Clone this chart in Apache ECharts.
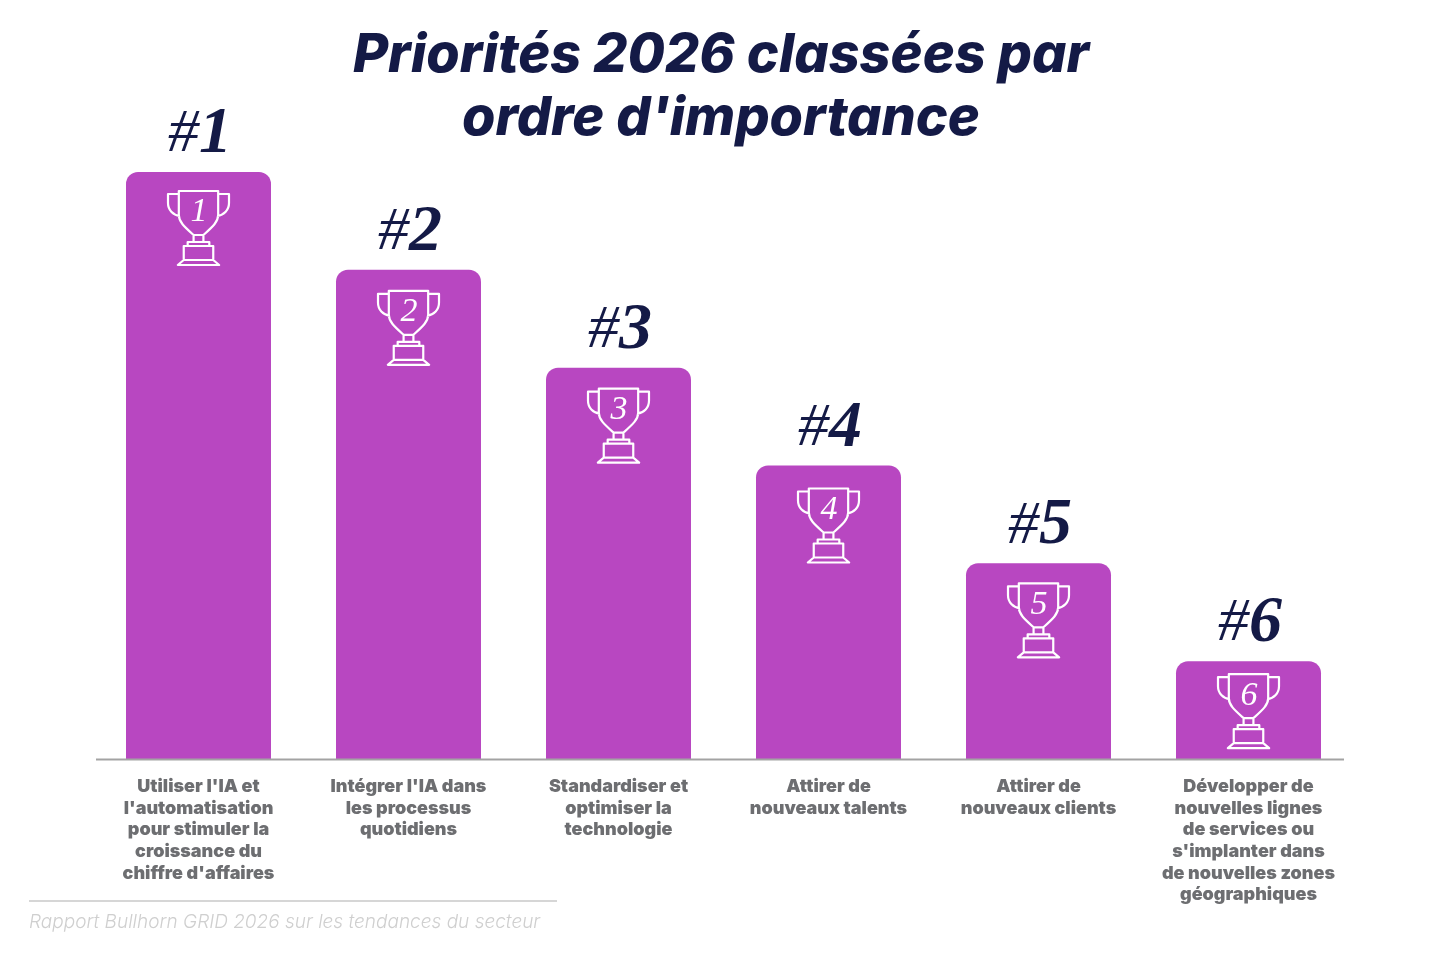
<!DOCTYPE html>
<html lang="fr">
<head>
<meta charset="utf-8">
<style>html,body{margin:0;padding:0;background:#fff}#chart{width:1440px;height:956px}</style>
<script src="https://cdn.jsdelivr.net/npm/echarts@6/dist/echarts.min.js"></script>
</head>
<body>
<div id="chart"></div>
<script>
const titleText = "Priorités 2026 classées par\nordre d'importance";
const sourceText = "Rapport Bullhorn GRID 2026 sur les tendances du secteur";
const categories = [
  "Utiliser l'IA et\nl'automatisation\npour stimuler la\ncroissance du\nchiffre d'affaires",
  "Intégrer l'IA dans\nles processus\nquotidiens",
  "Standardiser et\noptimiser la\ntechnologie",
  "Attirer de\nnouveaux talents",
  "Attirer de\nnouveaux clients",
  "Développer de\nnouvelles lignes\nde services ou\ns'implanter dans\nde nouvelles zones\ngéographiques"
];
const ranks = [1, 2, 3, 4, 5, 6];
const scores = [6, 5, 4, 3, 2, 1];

const NAVY = '#141a46';
const PURPLE = '#b847c1';
const SANS = 'Inter, "Open Sans", sans-serif';
const SERIF = '"Liberation Serif", serif';

// Vertical nudge of each trophy inside its bar, in pixels.
const trophyNudge = [0, 2, 2, 4, 1, -6];

// Trophy outline, centred on x = 0 with y = 0 at the top of the bar.
const trophyPath =
  'M-20 19H20V43C20 50 14 55 5 63H-5C-14 55 -20 50 -20 43Z' +
  'M-20 22H-31V31C-31 38 -26 43 -19 44M20 22H31V31C31 38 26 43 19 44' +
  'M-5 63V70H5V63M-11 70H11V74H-11ZM-15 74H15V88H-15Z' +
  'M-15 88H15L21 93H-21Z';

function renderTrophy(params, api) {
  const top = api.coord([api.value(0), api.value(1)]);
  const i = params.dataIndex;
  return {
    type: 'group',
    x: top[0],
    y: top[1] + trophyNudge[i],
    children: [
      {
        type: 'path',
        shape: { pathData: trophyPath, layout: 'cover', x: -30.5, y: 19, width: 61, height: 74 },
        style: { fill: 'none', stroke: '#fff', lineWidth: 2.2, lineJoin: 'round' }
      },
      {
        type: 'text',
        style: {
          text: String(ranks[i]),
          x: 0.5, y: 40.5,
          align: 'center', verticalAlign: 'middle',
          font: 'italic 34px ' + SERIF,
          fill: '#fff'
        }
      }
    ]
  };
}

const chart = echarts.init(document.getElementById('chart'), null, { renderer: 'canvas' });
chart.setOption({
  animation: false,
  backgroundColor: '#fff',
  title: {
    text: titleText,
    left: 716,
    top: 19,
    textAlign: 'center',
    textStyle: {
      color: NAVY,
      fontFamily: SANS,
      fontWeight: 800,
      fontStyle: 'italic',
      fontSize: 54,
      lineHeight: 63
    }
  },
  grid: { left: 93.5, width: 1260, top: 172, bottom: 197 },
  xAxis: {
    type: 'category',
    data: categories,
    axisLine: { show: false },
    axisTick: { show: false },
    axisLabel: {
      interval: 0,
      margin: 17,
      color: '#6d6e71',
      fontFamily: SANS,
      fontWeight: 900,
      fontSize: 18,
      lineHeight: 21.6,
      align: 'center'
    }
  },
  yAxis: { type: 'value', min: 0, max: 6, show: false },
  series: [
    {
      type: 'bar',
      data: scores,
      barWidth: 145,
      itemStyle: { color: PURPLE, borderRadius: [12, 12, 0, 0] },
      label: {
        show: true,
        position: 'top',
        distance: 4,
        offset: [1.5, 0],
        formatter: p => '{h|#}{n|' + ranks[p.dataIndex] + '}',
        rich: {
          h: { fontFamily: SERIF, fontStyle: 'italic', fontSize: 62, color: NAVY },
          n: { fontFamily: SERIF, fontStyle: 'italic', fontWeight: 'bold', fontSize: 66, color: NAVY }
        }
      }
    },
    {
      type: 'custom',
      renderItem: renderTrophy,
      data: scores.map((s, i) => [i, s]),
      encode: { x: 0, y: 1 },
      z: 5,
      silent: true
    }
  ],
  graphic: [
    { type: 'line', shape: { x1: 96, y1: 759.5, x2: 1344, y2: 759.5 }, style: { stroke: '#a3a3a3', lineWidth: 2 }, z: 10 },
    { type: 'line', shape: { x1: 29, y1: 901, x2: 557, y2: 901 }, style: { stroke: '#d6d6d6', lineWidth: 2 } },
    {
      type: 'text', x: 29, y: 922,
      style: {
        text: sourceText,
        fill: '#cfcfcf',
        font: 'italic 300 19px Inter, "Open Sans", sans-serif',
        verticalAlign: 'middle'
      }
    }
  ]
});
</script>
</body>
</html>
